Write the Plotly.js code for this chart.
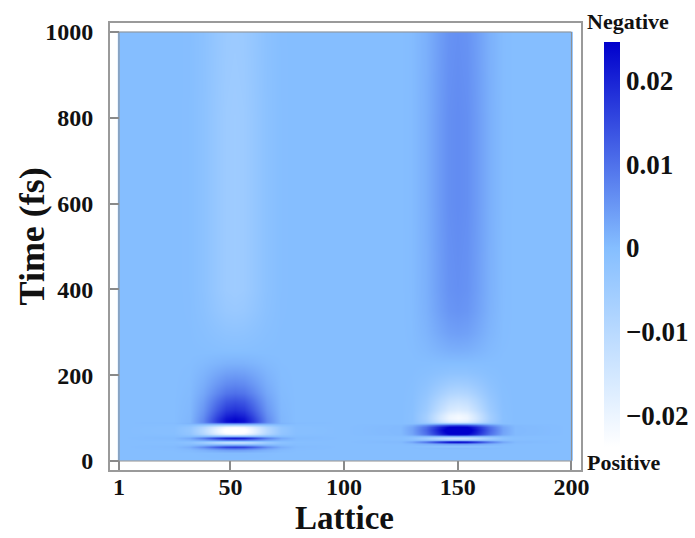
<!DOCTYPE html>
<html>
<head>
<meta charset="utf-8">
<script src="https://cdn.plot.ly/plotly-3.0.1.min.js"></script>
<style>html,body{margin:0;padding:0;background:#fff}#c{width:695px;height:538px}</style>
</head>
<body>
<div id="c"></div>
<script>
// values in units of 0.001
const lattice = [1,2,25,32,38,44,48,52,56,60,66,72,79,100,125,130,136,142,146,150,154,158,164,170,175,199,200];
const bandProfile = [0,0,0.02,0.12,0.38,0.75,0.95,1,0.95,0.75,0.38,0.12,0.02,0,0.02,0.12,0.38,0.75,0.95,1,0.95,0.75,0.38,0.12,0.02,0,0];
const plumeProfile = [0,0,0,0.04,0.28,0.7,0.93,1,0.93,0.7,0.28,0.04,0,0,0,0.04,0.28,0.7,0.93,1,0.93,0.7,0.28,0.04,0,0,0];
const time = [0,1,20,26,30,33,36,39,42,44,48,50,53,56,58,60,64,68,72,76,80,84,88,91,95,100,107,120,140,160,180,205,230,260,300,350,400,600,800,999,1000];
const centre50 = [0,0,0.3,4,12,17,10,-4,-11,-12,0,10,22,10,-4,-12,-22,-26,-26,-26,-22,-6,12,24,24,23,21,18,14,10,7,4,1.5,-0.5,-2,-4,-5,-5,-5,-4.5,-4.5];
const centre150 = [0,0,0,0,0.5,-1,-1,4,14,24,14,-6,-14,-6,4,18,26,28,29,28,26,14,-8,-18,-21,-22,-21,-17,-13,-9,-5.5,-2,0,2,4,5.5,6,6.5,6.5,6,6];
const lastBandTime = 88;
const xTicks = [1,50,100,150,200];
const yTicks = [0,200,400,600,800,1000];
const barTicks = [-20,-10,0,10,20];
const barLabels = ["−0.02","−0.01","0","0.01","0.02"];

const z = time.map((t,i)=>lattice.map((x,j)=>{
  const p = t<=lastBandTime ? bandProfile[j] : plumeProfile[j];
  return (x<100 ? centre50[i] : centre150[i])*p;
}));

const serif = "'Liberation Serif','Times New Roman',serif";
const tickFont = {family:serif,size:24,color:"#111",weight:700};
const zMin=-23.8, zMax=24.6, zFrac=(0-zMin)/(zMax-zMin);

const trace = {
  type:"heatmap", x:lattice, y:time, z:z, zsmooth:"best",
  zmin:zMin, zmax:zMax,
  colorscale:[[0,"#ffffff"],[zFrac,"#85BEFF"],[1,"#0000CC"]],
  colorbar:{
    thickness:16, thicknessmode:"pixels", len:405, lenmode:"pixels",
    x:1.0488, xanchor:"left", xpad:0, y:0.5045, yanchor:"middle", ypad:0,
    outlinewidth:0, ticks:"", tickvals:barTicks, ticktext:barLabels,
    tickfont:{family:serif,size:27,color:"#111",weight:700}, ticklabelposition:"outside"
  },
  hoverinfo:"skip"
};

const axisBase = {
  showgrid:false, zeroline:false, showline:true, linecolor:"#9a9a9a", linewidth:2,
  mirror:true, ticks:"inside", ticklen:9, tickwidth:1.5, tickcolor:"#8a8a8a",
  tickmode:"array", tickfont:tickFont
};

const layout = {
  width:695, height:538,
  margin:{l:110,r:114,t:23,b:68},
  paper_bgcolor:"#fff", plot_bgcolor:"#fff",
  xaxis:Object.assign({},axisBase,{
    range:[-2.95,204.2], tickvals:xTicks, ticklabelstandoff:-6
  }),
  yaxis:Object.assign({},axisBase,{
    range:[-21,1021], tickvals:yTicks, ticklabelstandoff:10
  }),
  shapes:[{type:"rect",xref:"x",yref:"y",x0:1,x1:200,y0:0,y1:1000,line:{color:"#8f8f8f",width:1},layer:"above"}],
  annotations:[
    {text:"<b>Lattice</b>",xref:"paper",yref:"paper",x:0.497,y:-0.108,xanchor:"center",yanchor:"middle",showarrow:false,font:{family:serif,size:33,color:"#111"}},
    {text:"<b>Time (fs)</b>",textangle:-90,xref:"paper",yref:"paper",x:-0.166,y:0.522,xanchor:"center",yanchor:"middle",showarrow:false,font:{family:serif,size:36,color:"#111"}},
    {text:"<b>Negative</b>",xref:"paper",yref:"paper",x:1.0998,y:1.003,xanchor:"center",yanchor:"middle",showarrow:false,font:{family:serif,size:22,color:"#111"}},
    {text:"<b>Positive</b>",xref:"paper",yref:"paper",x:1.0913,y:0.0157,xanchor:"center",yanchor:"middle",showarrow:false,font:{family:serif,size:22,color:"#111"}}
  ]
};
Plotly.newPlot("c",[trace],layout,{displayModeBar:false,responsive:false});
</script>
</body>
</html>
